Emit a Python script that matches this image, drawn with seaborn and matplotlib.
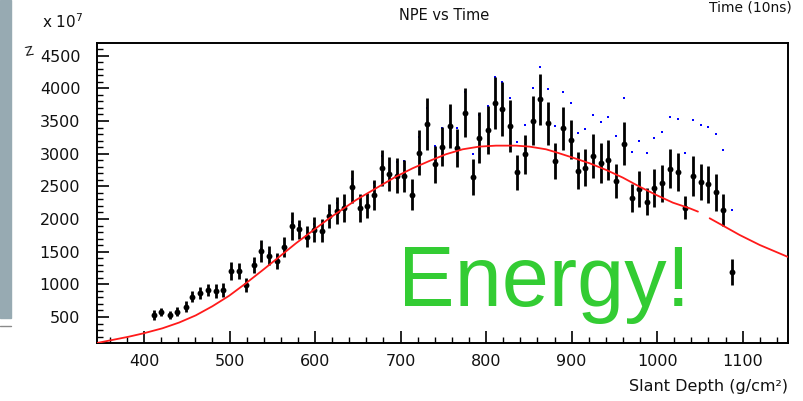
import numpy as np
import pandas as pd
import matplotlib
matplotlib.use("Agg")
import matplotlib.pyplot as plt
from matplotlib.patches import Rectangle
from matplotlib.lines import Line2D
from matplotlib.ticker import MultipleLocator
import seaborn as sns

# ---------------- data ----------------
black_x = [411.7, 420.3, 430.0, 439.0, 448.8, 456.6, 466.0, 475.0, 484.3, 492.9,
           501.5, 511.2, 519.0, 528.0, 537.3, 546.0, 554.9, 563.9, 572.9, 581.5,
           590.0, 599.0, 608.0, 616.6, 625.1, 634.1, 642.7, 652.5, 660.6, 669.2,
           678.2, 686.8, 695.3, 704.3, 713.3, 721.9, 730.9, 739.8, 748.5, 757.8,
           766.0, 774.9, 784.3, 792.1, 801.8, 810.5, 818.7, 827.6, 836.3, 845.2,
           854.6, 863.2, 872.1, 880.7, 889.7, 898.7, 907.6, 915.8, 924.8, 933.8,
           943.1, 952.1, 960.7, 970.1, 978.6, 988.0, 996.6, 1006.0, 1014.5, 1023.9,
           1032.9, 1041.8, 1050.8, 1059.4, 1068.7, 1077.4, 1087.1]
black_y = [531, 572, 531, 581, 658, 811, 872, 913, 898, 913,
           1204, 1204, 990, 1296, 1510, 1438, 1362, 1576, 1893, 1843,
           1730, 1832, 1821, 2046, 2127, 2173, 2495, 2164, 2205, 2368,
           2776, 2684, 2664, 2659, 2368, 3016, 3450, 2837, 3108, 3424,
           3083, 3628, 2649, 3246, 3363, 3771, 3684, 3429, 2715, 2991,
           3506, 3833, 3465, 2888, 3388, 3210, 2741, 2787, 2971, 2853,
           2904, 2582, 3149, 2317, 2460, 2266, 2470, 2546, 2766, 2715,
           2174, 2664, 2562, 2531, 2408, 2138, 1184]
black_err = [77, 64, 61, 69, 84, 89, 89, 97, 110, 107,
             140, 128, 102, 128, 173, 143, 122, 153, 209, 148,
             166, 191, 179, 191, 205, 217, 255, 217, 191, 230,
             273, 260, 273, 242, 237, 350, 395, 281, 299, 332,
             293, 378, 276, 390, 362, 401, 413, 396, 268, 299,
             370, 393, 332, 273, 332, 299, 281, 281, 337, 306,
             306, 260, 329, 217, 273, 204, 288, 286, 299, 293,
             180, 306, 273, 286, 286, 248, 199]

blue_x = [528.0, 537.3, 546.0, 554.9, 572.9, 581.5, 599.0, 616.6, 625.1,
          642.7, 669.2, 678.2, 695.3, 704.3, 721.9, 730.9, 739.8, 748.5, 766.0,
          774.9, 784.3, 792.1, 801.8, 810.5, 818.7, 827.6, 836.3, 845.2, 854.6,
          863.2, 872.1, 880.7, 889.7, 898.7, 907.6, 915.8, 924.8, 933.8, 943.1,
          952.1, 960.7, 970.1, 978.6, 988.0, 996.6, 1006.0, 1014.5, 1023.9, 1032.9,
          1041.8, 1050.8, 1059.4, 1068.7, 1077.4, 1087.1]
blue_y = [1347, 1536, 1475, 1434, 1960, 1909, 1924, 2145, 2250,
          2613, 2546, 2970, 2878, 2888, 3251, 3705, 3123, 3388, 3388,
          3940, 2991, 3593, 3730, 4179, 4103, 3858, 3174, 3440, 4001,
          4322, 3986, 3429, 3940, 3782, 3322, 3378, 3593, 3491, 3567,
          3271, 3848, 3031, 3200, 3016, 3246, 3327, 3567, 3532, 3006,
          3516, 3440, 3414, 3297, 3057, 2133]

fit1_x = [345, 382, 400, 421.5, 441, 460.5, 480, 499.5, 519, 538.5, 558,
          577.6, 616.6, 647.8, 679, 694.6, 714, 733.6, 753, 772.6, 792, 811.6,
          835, 850.7, 870, 881.9, 901.4, 921, 940.4, 959.9, 979.4, 998.9,
          1018.4, 1038, 1047.7]
fit1_y = [102, 198, 252, 327, 415, 525, 665, 825, 1015, 1215, 1420,
          1628, 2011, 2290, 2530, 2649, 2776, 2888, 2991, 3067, 3108, 3123,
          3123, 3108, 3067, 3021, 2939, 2853, 2751, 2633, 2495, 2368,
          2250, 2164, 2113]
fit2_x = [1061.4, 1077, 1096.5, 1120, 1153]
fit2_y = [2011, 1898, 1755, 1602, 1419]

x_ticks = [400, 500, 600, 700, 800, 900, 1000, 1100]
y_ticks = [500, 1000, 1500, 2000, 2500, 3000, 3500, 4000, 4500]

# ---------------- figure ----------------
sns.set_style("white")
plt.rcParams['font.family'] = ['DejaVu Sans']

W, H = 804, 401
fig = plt.figure(figsize=(W / 100, H / 100), dpi=100)
ax = fig.add_axes([97 / W, 1 - 343 / H, (788 - 97) / W, (343 - 43) / H])

df_b = pd.DataFrame({"x": black_x, "y": black_y, "err": black_err})
df_blue = pd.DataFrame({"x": blue_x, "y": blue_y})
df_f1 = pd.DataFrame({"x": fit1_x, "y": fit1_y})
df_f2 = pd.DataFrame({"x": fit2_x, "y": fit2_y})

# blue series
sns.scatterplot(data=df_blue, x="x", y="y", ax=ax, color="#0000ff", marker="s",
                s=4.5, linewidth=0, zorder=2)
# black points with errors
ax.errorbar(df_b["x"], df_b["y"], yerr=df_b["err"], fmt="none", ecolor="black",
            elinewidth=2.0, capsize=0, zorder=3)
sns.scatterplot(data=df_b, x="x", y="y", ax=ax, color="black", marker="o",
                s=18, linewidth=0, zorder=4)
# fit curve
sns.lineplot(data=df_f1, x="x", y="y", ax=ax, color="#ff1a1a", lw=1.3,
             sort=False, estimator=None, zorder=5)
sns.lineplot(data=df_f2, x="x", y="y", ax=ax, color="#ff1a1a", lw=1.3,
             sort=False, estimator=None, zorder=5)

ax.set_xlim(345, 1153)
ax.set_ylim(102, 4694)
ax.set_xlabel("")
ax.set_ylabel("")

ax.xaxis.set_major_locator(MultipleLocator(100))
ax.xaxis.set_minor_locator(MultipleLocator(20))
ax.yaxis.set_major_locator(MultipleLocator(500))
ax.yaxis.set_minor_locator(MultipleLocator(100))
ax.set_xticks(x_ticks)
ax.set_yticks(y_ticks)
ax.set_xticklabels([str(v) for v in x_ticks])
ax.set_yticklabels([str(v) for v in y_ticks])

ax.tick_params(axis="both", which="major", direction="in", length=8.5, width=1.2,
               color="black", labelsize=11.5, labelcolor="#111111")
ax.tick_params(axis="both", which="minor", direction="in", length=4.5, width=1.0,
               color="black")
ax.tick_params(axis="x", which="both", top=False, bottom=True, pad=8)
ax.tick_params(axis="y", which="both", right=False, left=True, pad=12)
for sp in ax.spines.values():
    sp.set_visible(True)
    sp.set_color("black")
    sp.set_linewidth(1.4)

# text
fig.text(444 / W, 1 - 15 / H, "NPE vs Time", ha="center", va="center",
         fontsize=10.5, color="#111111")
fig.text(792 / W, 1 - 0.5 / H, "Time (10ns)", ha="right", va="top",
         fontsize=10, color="#111111")
fig.text(42 / W, 1 - 22 / H, r"x 10$^{7}$", ha="left", va="center",
         fontsize=11, color="#111111")
fig.text(24 / W, 1 - 52 / H, "Z", ha="left", va="center",
         fontsize=9, color="#111111", rotation=10)
fig.text(788 / W, 1 - 387 / H, "Slant Depth (g/cm²)", ha="right", va="center",
         fontsize=11.5, color="#111111")
fig.text(398 / W, 1 - 306 / H, "Energy!", ha="left", va="baseline", fontsize=61,
         family="Liberation Sans", color="#33cc33", zorder=6)

# left slide strip
fig.patches.append(Rectangle((0, 1 - 318 / H), 11 / W, 318 / H,
                             transform=fig.transFigure, color="#97aab2",
                             zorder=0))
fig.lines.append(Line2D([0, 11 / W], [1 - 326 / H, 1 - 326 / H],
                        transform=fig.transFigure, color="#8a8a8a", lw=1))

fig.savefig("out.png", dpi=100)
